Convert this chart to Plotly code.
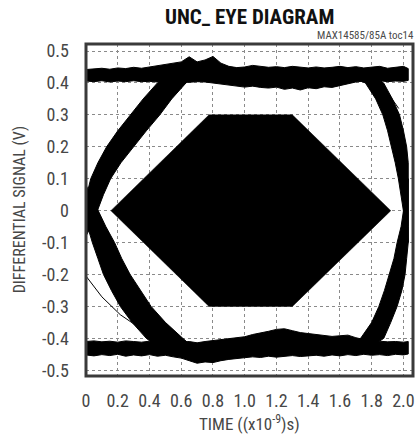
import plotly.graph_objects as go

# ---------------- data ----------------
X_TICK_VALS = [0, 0.2, 0.4, 0.6, 0.8, 1.0, 1.2, 1.4, 1.6, 1.8, 2.0]
X_TICK_TEXT = ["0", "0.2", "0.4", "0.6", "0.8", "1.0", "1.2", "1.4", "1.6", "1.8", "2.0"]
Y_TICK_VALS = [0.5, 0.4, 0.3, 0.2, 0.1, 0, -0.1, -0.2, -0.3, -0.4, -0.5]
Y_TICK_TEXT = ["0.5", "0.4", "0.3", "0.2", "0.1", "0", "-0.1", "-0.2", "-0.3", "-0.4", "-0.5"]

# high rail band (time in ns, edges in V)
RAIL_X = [0.0, 0.05, 0.1, 0.15, 0.2, 0.25, 0.3, 0.35, 0.4, 0.45, 0.5, 0.55, 0.6, 0.65, 0.7,
          0.75, 0.8, 0.85, 0.9, 0.95, 1.0, 1.05, 1.1, 1.15, 1.2, 1.25, 1.3, 1.35, 1.4, 1.45,
          1.5, 1.55, 1.6, 1.65, 1.7, 1.75, 1.8, 1.85, 1.9, 1.95, 2.0, 2.03]
HIGH_TOP = [0.442, 0.444, 0.446, 0.443, 0.447, 0.445, 0.449, 0.446, 0.450, 0.452, 0.458, 0.462,
            0.466, 0.482, 0.466, 0.472, 0.483, 0.462, 0.452, 0.448, 0.450, 0.455, 0.452, 0.449,
            0.451, 0.448, 0.452, 0.449, 0.447, 0.450, 0.447, 0.449, 0.452, 0.448, 0.451, 0.447,
            0.450, 0.452, 0.446, 0.449, 0.452, 0.445]
HIGH_BOTTOM = [0.406, 0.404, 0.407, 0.403, 0.406, 0.404, 0.407, 0.404, 0.405, 0.403, 0.405, 0.404,
               0.403, 0.402, 0.404, 0.403, 0.401, 0.397, 0.395, 0.390, 0.387, 0.390, 0.386, 0.384,
               0.387, 0.380, 0.384, 0.378, 0.385, 0.382, 0.388, 0.386, 0.393, 0.398, 0.403, 0.406,
               0.405, 0.407, 0.404, 0.406, 0.405, 0.408]
# low rail band
LOW_TOP = [-0.410, -0.408, -0.411, -0.409, -0.412, -0.408, -0.410, -0.412, -0.409, -0.410, -0.408,
           -0.410, -0.412, -0.410, -0.414, -0.410, -0.407, -0.405, -0.402, -0.400, -0.395, -0.388,
           -0.384, -0.378, -0.372, -0.370, -0.376, -0.382, -0.385, -0.388, -0.392, -0.394, -0.392,
           -0.390, -0.398, -0.405, -0.410, -0.409, -0.411, -0.410, -0.412, -0.410]
LOW_BOTTOM = [-0.452, -0.455, -0.451, -0.454, -0.450, -0.456, -0.452, -0.455, -0.451, -0.456, -0.453,
              -0.458, -0.462, -0.470, -0.478, -0.474, -0.476, -0.470, -0.466, -0.463, -0.460, -0.458,
              -0.460, -0.456, -0.459, -0.457, -0.454, -0.457, -0.455, -0.453, -0.456, -0.452, -0.455,
              -0.451, -0.454, -0.450, -0.453, -0.451, -0.454, -0.450, -0.452, -0.449]

# rising edge after the left crossing (outer / inner boundaries)
RISE_L_Y = [-0.08, -0.04, 0.0, 0.05, 0.1, 0.15, 0.2, 0.25, 0.3, 0.35, 0.4, 0.425]
RISE_L_OUTER = [-0.06, -0.04, -0.02, 0.005, 0.03, 0.075, 0.13, 0.2, 0.28, 0.36, 0.45, 0.52]
RISE_L_INNER = [0.0, 0.04, 0.072, 0.11, 0.155, 0.22, 0.3, 0.38, 0.465, 0.54, 0.63, 0.7]
# falling edge after the left crossing
FALL_L_Y = [0.08, 0.04, 0.0, -0.05, -0.1, -0.15, -0.2, -0.25, -0.3, -0.35, -0.4, -0.43]
FALL_L_OUTER = [-0.06, -0.04, -0.02, 0.01, 0.04, 0.075, 0.11, 0.16, 0.216, 0.29, 0.38, 0.46]
FALL_L_INNER = [0.0, 0.04, 0.078, 0.125, 0.18, 0.225, 0.278, 0.345, 0.41, 0.5, 0.61, 0.68]
# falling edge into the right crossing
FALL_R_Y = [0.425, 0.4, 0.35, 0.3, 0.25, 0.2, 0.15, 0.1, 0.05, 0.0, -0.05, -0.1]
FALL_R_INNER = [1.64, 1.76, 1.825, 1.87, 1.9, 1.925, 1.948, 1.968, 1.985, 2.0, 2.015, 2.03]
FALL_R_OUTER = [1.80, 1.875, 1.93, 1.975, 2.0, 2.02, 2.03, 2.03, 2.03, 2.03, 2.03, 2.03]
# rising edge into the right crossing
RISE_R_Y = [-0.425, -0.4, -0.35, -0.3, -0.25, -0.2, -0.15, -0.1, -0.05, 0.0, 0.05, 0.1]
RISE_R_INNER = [1.64, 1.73, 1.80, 1.845, 1.88, 1.91, 1.94, 1.96, 1.985, 2.0, 2.015, 2.03]
RISE_R_OUTER = [1.80, 1.876, 1.92, 1.96, 1.99, 2.01, 2.02, 2.03, 2.03, 2.03, 2.03, 2.03]

# stray single traces
STRAY1_X = [0.0, 0.1, 0.216, 0.34, 0.466]
STRAY1_Y = [-0.205, -0.27, -0.326, -0.368, -0.40]
STRAY2_X = [1.80, 1.90, 1.97]
STRAY2_Y = [0.414, 0.37, 0.32]

# eye mask hexagon
MASK_X = [0.157, 0.775, 1.30, 1.92, 1.30, 0.775, 0.157]
MASK_Y = [0.0, 0.3, 0.3, 0.0, -0.3, -0.3, 0.0]

FONT = "Liberation Sans Narrow, Arial Narrow, Roboto Condensed, Roboto, sans-serif"
INK = "#000000"

fig = go.Figure()


def band(xs, top, bottom):
    fig.add_trace(go.Scatter(x=list(xs) + list(xs)[::-1], y=list(top) + list(bottom)[::-1],
                             mode="lines", fill="toself", fillcolor=INK,
                             line=dict(color=INK, width=1), hoverinfo="skip", showlegend=False))


def edge(ys, outer, inner):
    fig.add_trace(go.Scatter(x=list(outer) + list(inner)[::-1], y=list(ys) + list(ys)[::-1],
                             mode="lines", fill="toself", fillcolor=INK,
                             line=dict(color=INK, width=1), hoverinfo="skip", showlegend=False))


band(RAIL_X, HIGH_TOP, HIGH_BOTTOM)
band(RAIL_X, LOW_TOP, LOW_BOTTOM)
edge(RISE_L_Y, RISE_L_OUTER, RISE_L_INNER)
edge(FALL_L_Y, FALL_L_OUTER, FALL_L_INNER)
edge(FALL_R_Y, FALL_R_OUTER, FALL_R_INNER)
edge(RISE_R_Y, RISE_R_OUTER, RISE_R_INNER)

for sx, sy in [(STRAY1_X, STRAY1_Y), (STRAY2_X, STRAY2_Y)]:
    fig.add_trace(go.Scatter(x=sx, y=sy, mode="lines", line=dict(color=INK, width=1),
                             hoverinfo="skip", showlegend=False))

fig.add_trace(go.Scatter(x=MASK_X, y=MASK_Y, mode="lines", fill="toself", fillcolor=INK,
                         line=dict(color=INK, width=0.5), hoverinfo="skip", showlegend=False))

grid = dict(showgrid=True, gridcolor="#8a8a8a", griddash="dot", gridwidth=1,
            zeroline=False, showline=False, ticks="",
            tickfont=dict(family=FONT, size=18, color="#474747"))

fig.update_xaxes(range=[0, 2.06], tickmode="array", tickvals=X_TICK_VALS, ticktext=X_TICK_TEXT,
                 ticklabelstandoff=12, **grid)
fig.update_yaxes(range=[-0.518, 0.522], tickmode="array", tickvals=Y_TICK_VALS, ticktext=Y_TICK_TEXT,
                 ticklabelstandoff=16, **grid)

fig.update_layout(
    width=419, height=437,
    margin=dict(l=86, r=4, t=44, b=61),
    paper_bgcolor="white", plot_bgcolor="white",
    showlegend=False,
    shapes=[dict(type="rect", xref="paper", yref="paper", x0=0, x1=1, y0=0, y1=1,
                 line=dict(color="#3a3a3a", width=3), layer="above")],
    annotations=[
        dict(text="<b>UNC_ EYE DIAGRAM</b>", xref="paper", yref="paper", x=0.5015, y=1.08,
             xanchor="center", yanchor="middle", showarrow=False,
             font=dict(family=FONT, size=21, color="#111111")),
        dict(text="MAX14585/85A toc14", xref="paper", yref="paper", x=1.008, y=1.026,
             xanchor="right", yanchor="middle", showarrow=False,
             font=dict(family=FONT, size=11, color="#4a4a4a")),
        dict(text="TIME ((x10<sup>-9</sup>)s)", xref="paper", yref="paper", x=0.5, y=-0.142,
             xanchor="center", yanchor="middle", showarrow=False,
             font=dict(family=FONT, size=17, color="#474747")),
        dict(text="DIFFERENTIAL SIGNAL (V)", xref="paper", yref="paper", x=-0.204, y=0.5,
             xanchor="center", yanchor="middle", textangle=-90, showarrow=False,
             font=dict(family=FONT, size=16, color="#474747")),
    ],
)

fig.write_html("out.html", config={"displayModeBar": False},
               post_script="document.body.style.margin='0';document.body.style.overflow='hidden';")
